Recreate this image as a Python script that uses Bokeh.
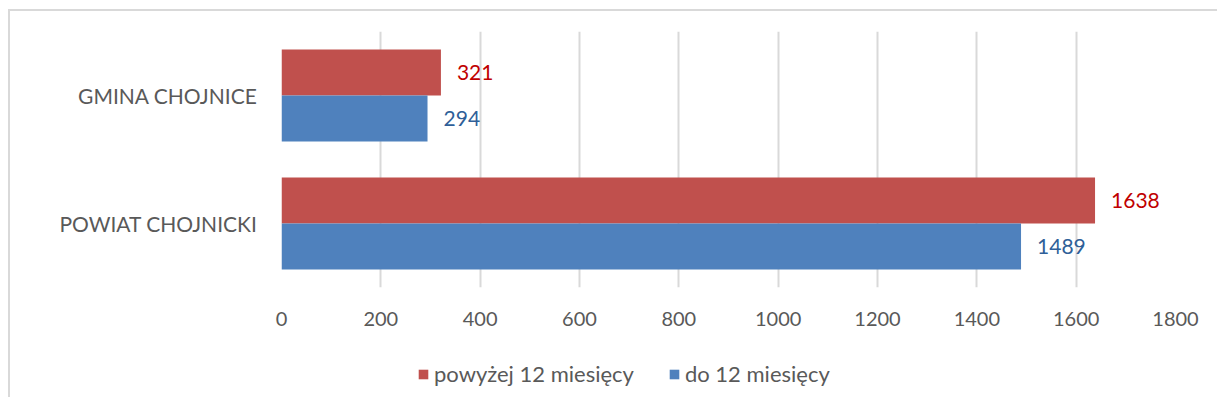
from bokeh.plotting import figure
from bokeh.layouts import column
from bokeh.models import ColumnDataSource, Legend, LegendItem, FixedTicker, FactorRange, Range1d
from bokeh.transform import dodge
from bokeh.core.properties import value
from bokeh.embed import file_html
from bokeh.resources import INLINE

categories = ["POWIAT CHOJNICKI", "GMINA CHOJNICE"]
series_names = ["powyżej 12 miesięcy", "do 12 miesięcy"]
above_12 = [1638, 321]
upto_12 = [1489, 294]
x_ticks = [0, 200, 400, 600, 800, 1000, 1200, 1400, 1600, 1800]

RED = "#c0504d"
BLUE = "#4f81bd"
RED_LBL = "#c00000"
BLUE_LBL = "#2f5f98"
TXT = "#595959"
FONT = "Lato"
FS = "20px"

src = ColumnDataSource(dict(
    cat=categories,
    a=above_12,
    b=upto_12,
    a_lbl=[str(v) for v in above_12],
    b_lbl=[str(v) for v in upto_12],
))

p = figure(
    width=1207, height=326,
    y_range=FactorRange(*categories, range_padding=0),
    x_range=Range1d(0, 1800),
    output_backend="svg", toolbar_location=None,
    min_border_left=271, min_border_right=42, min_border_top=20, min_border_bottom=50,
)
p.outline_line_color = None
p.background_fill_color = "white"
p.border_fill_color = "white"

r_a = p.hbar(y=dodge("cat", 0.18, range=p.y_range), right="a", left=0, height=0.36,
             source=src, fill_color=RED, line_color=None)
r_b = p.hbar(y=dodge("cat", -0.18, range=p.y_range), right="b", left=0, height=0.36,
             source=src, fill_color=BLUE, line_color=None)

p.text(x="a", y=dodge("cat", 0.18, range=p.y_range), text="a_lbl", source=src,
       x_offset=16, text_baseline="middle", text_align="left",
       text_font=value(FONT), text_font_size="21px", text_color=RED_LBL)
p.text(x="b", y=dodge("cat", -0.18, range=p.y_range), text="b_lbl", source=src,
       x_offset=16, text_baseline="middle", text_align="left",
       text_font=value(FONT), text_font_size="21px", text_color=BLUE_LBL)

p.xaxis.ticker = FixedTicker(ticks=x_ticks)
p.xaxis.axis_line_color = None
p.xaxis.major_tick_line_color = None
p.xaxis.minor_tick_line_color = None
p.xaxis.major_tick_out = 0
p.xaxis.major_label_standoff = 24
p.xaxis.major_label_text_font = FONT
p.xaxis.major_label_text_font_size = FS
p.xaxis.major_label_text_color = TXT

p.yaxis.axis_line_color = None
p.yaxis.major_tick_line_color = None
p.yaxis.minor_tick_line_color = None
p.yaxis.major_tick_out = 0
p.yaxis.major_label_standoff = 24
p.yaxis.major_label_text_font = FONT
p.yaxis.major_label_text_font_size = "21px"
p.yaxis.major_label_text_color = TXT

p.xgrid.grid_line_color = "#d9d9d9"
p.xgrid.grid_line_width = 2
p.ygrid.grid_line_color = None

# legend-only strip (its frame is aligned with the main frame by the column)
p2 = figure(width=1207, height=60, x_range=(0, 1), y_range=(0, 1),
            output_backend="svg", toolbar_location=None,
            x_axis_type=None, y_axis_type=None, min_border=0)
p2.outline_line_color = None
p2.xgrid.grid_line_color = None
p2.ygrid.grid_line_color = None
d_a = p2.quad(left=[-5], right=[-4], bottom=[-5], top=[-4], fill_color=RED, line_color=None)
d_b = p2.quad(left=[-5], right=[-4], bottom=[-5], top=[-4], fill_color=BLUE, line_color=None)

legend = Legend(items=[LegendItem(label=series_names[0], renderers=[d_a]),
                       LegendItem(label=series_names[1], renderers=[d_b])],
                location=(136, 10), orientation="horizontal")
legend.glyph_width = 12
legend.glyph_height = 12
legend.label_standoff = 5
legend.spacing = 34
legend.padding = 0
legend.margin = 0
legend.border_line_color = None
legend.background_fill_alpha = 0
legend.label_text_font = FONT
legend.label_text_font_size = "22px"
legend.label_text_color = TXT
p2.add_layout(legend, "center")

layout = column(p, p2, spacing=0)
layout.styles = {"border-top": "2px solid #d9d9d9", "border-left": "2px solid #d9d9d9",
                 "margin-left": "8px", "margin-top": "9px"}

open("out.html", "w").write(file_html(layout, INLINE))
